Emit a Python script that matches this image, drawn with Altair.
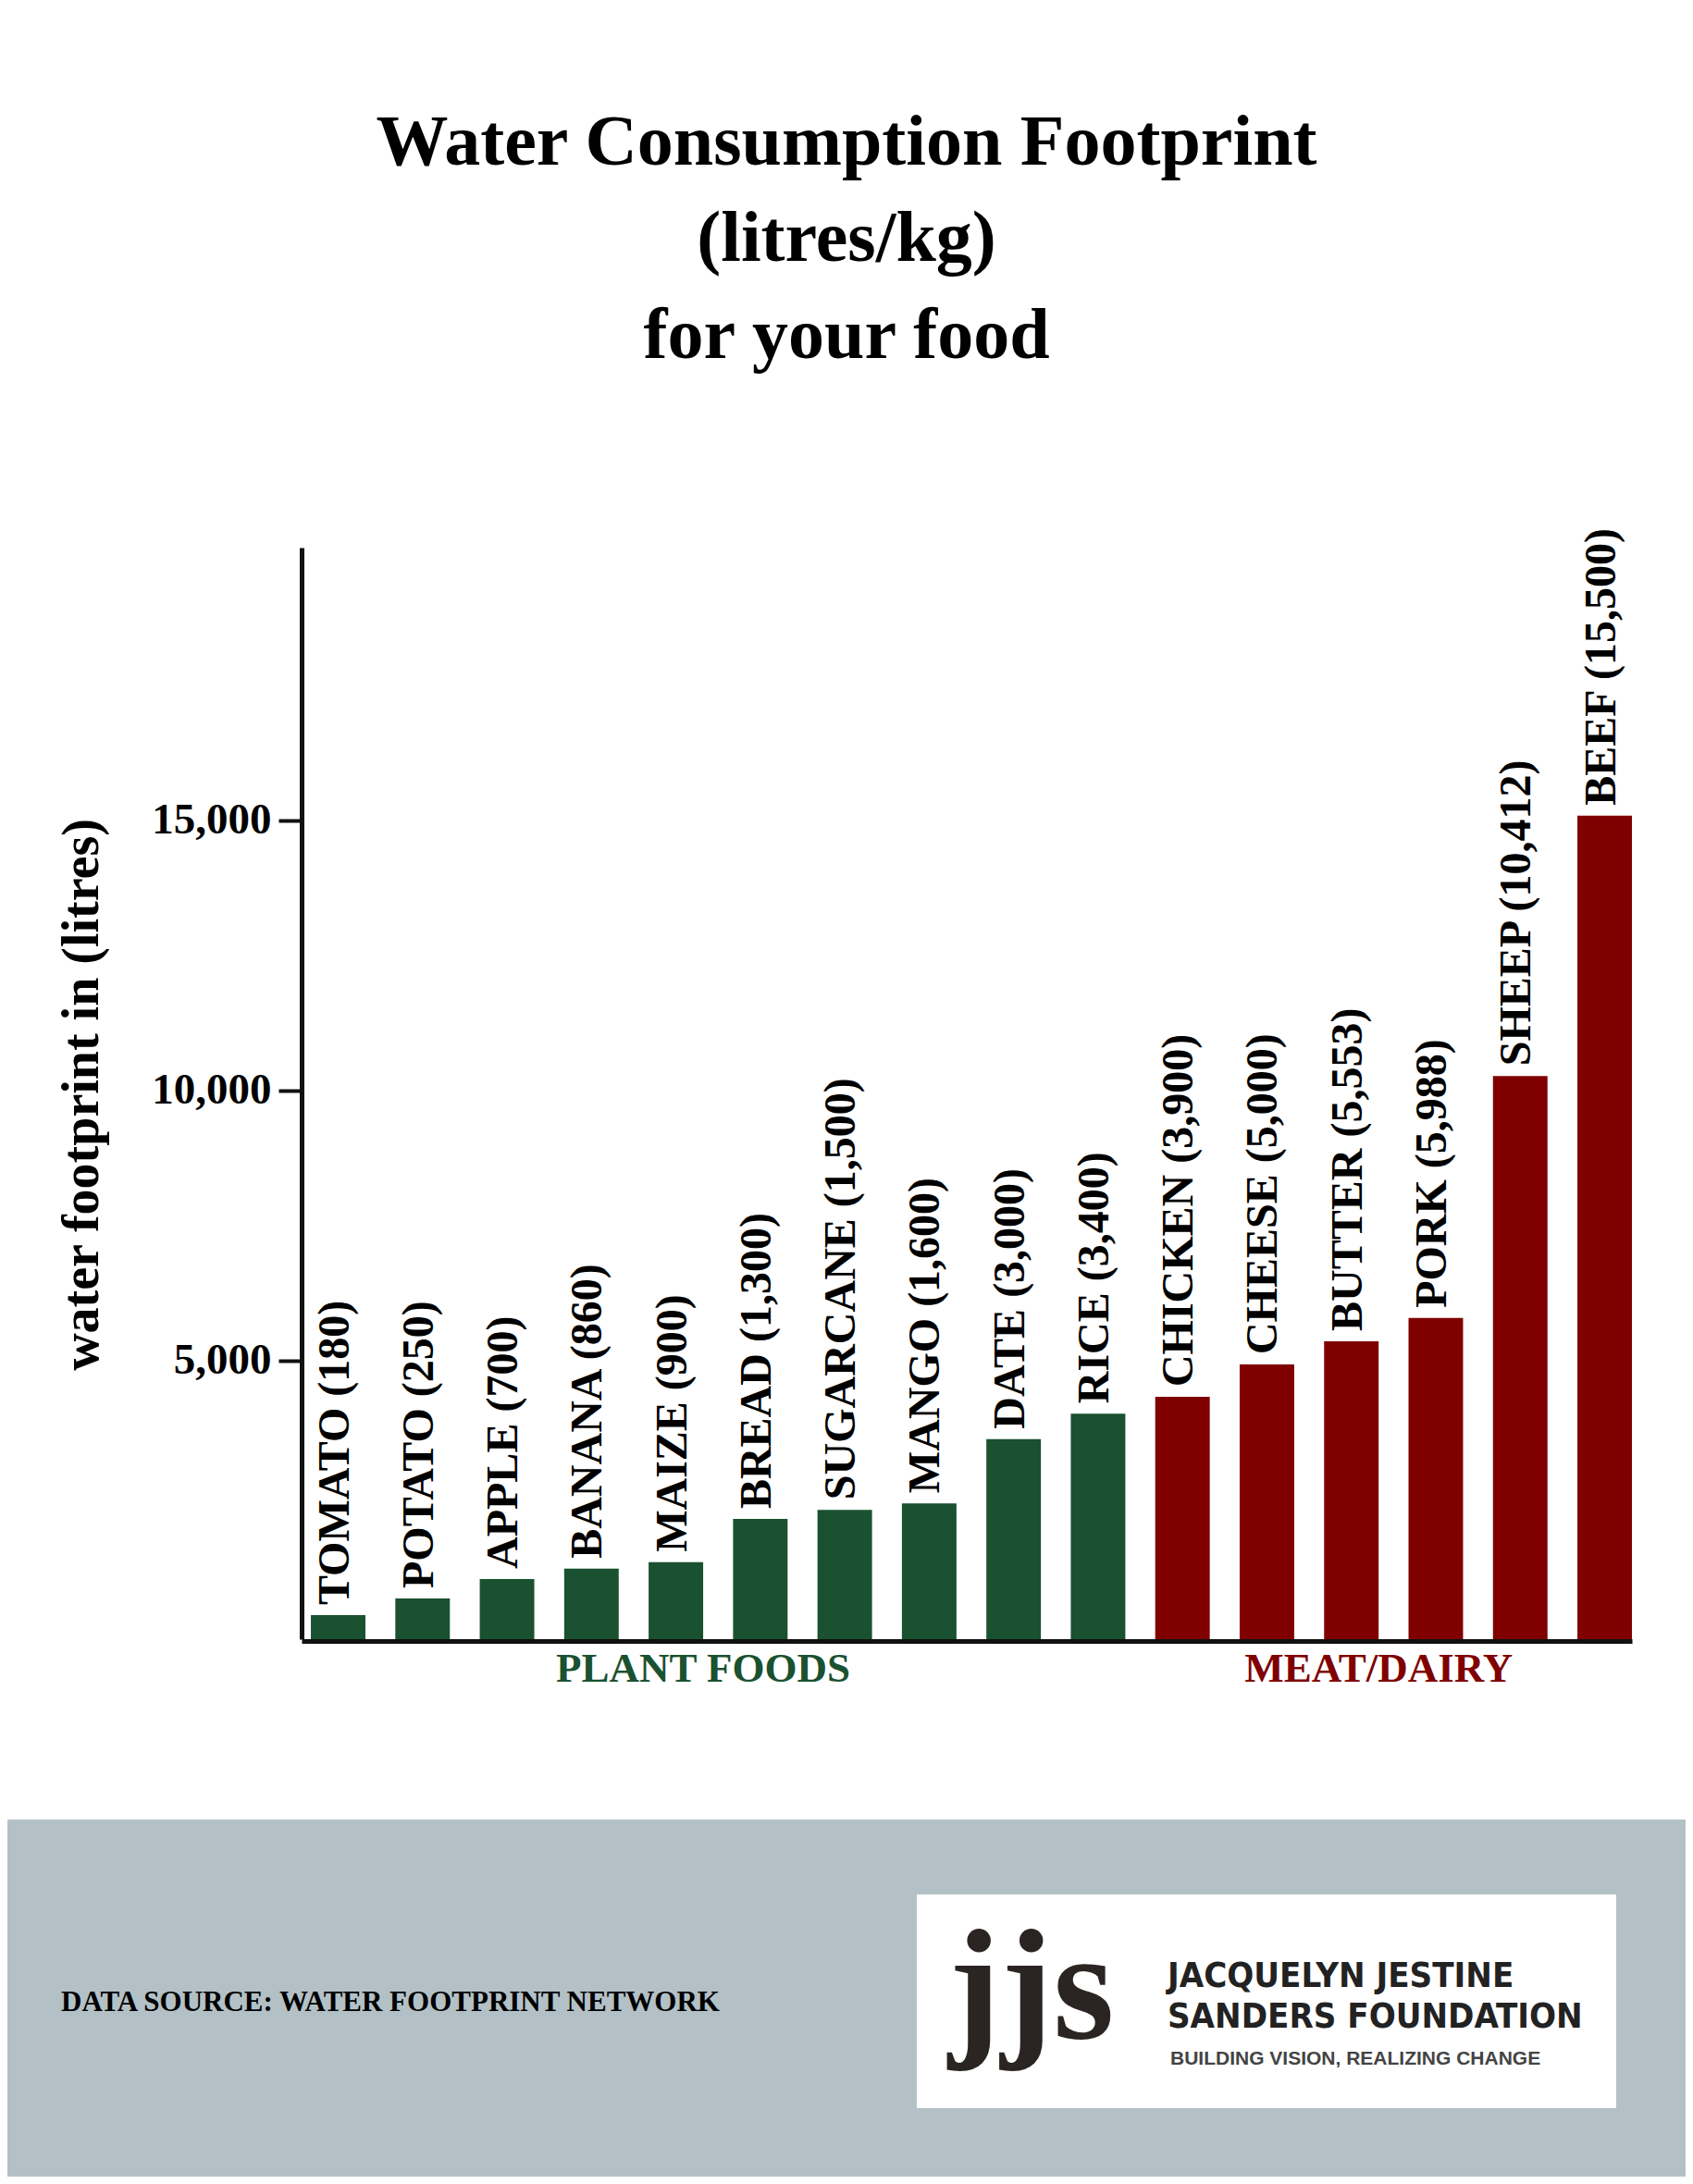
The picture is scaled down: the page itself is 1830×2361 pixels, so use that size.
import altair as alt
import pandas as pd

# ---------------- data ----------------
foods = ["TOMATO", "POTATO", "APPLE", "BANANA", "MAIZE", "BREAD", "SUGARCANE",
         "MANGO", "DATE", "RICE", "CHICKEN", "CHEESE", "BUTTER", "PORK",
         "SHEEP", "BEEF"]
stated_litres = [180, 250, 700, 860, 900, 1300, 1500, 1600, 3000, 3400,
                 3900, 5000, 5553, 5988, 10412, 15500]
bar_heights = [290, 600, 960, 1150, 1270, 2070, 2240, 2360, 3550, 4020,
               4330, 4930, 5360, 5790, 10270, 15090]
groups = ["plant", "plant", "plant", "plant", "plant", "plant", "plant",
          "plant", "plant", "plant", "meat", "meat", "meat", "meat",
          "meat", "meat"]
group_keys = ["plant", "meat"]
group_names = ["PLANT FOODS", "MEAT/DAIRY"]
group_anchor = ["MAIZE", "BUTTER"]
y_ticks = [5000, 10000, 15000]
y_domain = [-154, 20050]
title_lines = ["Water Consumption Footprint", "(litres/kg)", "for your food"]
source_text = "DATA SOURCE: WATER FOOTPRINT NETWORK"
logo_mark = "jjs"
logo_lines = ["JACQUELYN JESTINE", "SANDERS FOUNDATION"]
logo_tagline = "BUILDING VISION, REALIZING CHANGE"

# ---------------- styling ----------------
W, H = 1438, 1180
SERIF = "Liberation Serif"
GREEN, RED = "#1a5130", "#800000"
BAND = "#b3c1c6"

color_scale = alt.Scale(domain=group_keys, range=[GREEN, RED])
x_scale = alt.Scale(paddingInner=0.354, paddingOuter=0.055, align=1)
y_scale = alt.Scale(domain=y_domain, nice=False, zero=False)

df = pd.DataFrame({
    "food": foods,
    "height": bar_heights,
    "group": groups,
    "label": [f"{f} ({v:,})" for f, v in zip(foods, stated_litres)],
})
gdf = pd.DataFrame({"food": group_anchor, "name": group_names, "group": group_keys})

x_axis = alt.Axis(title=None, labels=False, ticks=False, grid=False,
                  domain=True, domainColor="#111", domainWidth=5, offset=2)
y_axis = alt.Axis(values=y_ticks, format=",d", grid=False,
                  title="water footprint in (litres)",
                  labelFont=SERIF, labelFontSize=47, labelFontWeight="bold",
                  labelColor="black", labelPadding=8,
                  tickSize=25, tickWidth=4, tickColor="#111",
                  domainColor="#111", domainWidth=5,
                  titleFont=SERIF, titleFontSize=56, titleFontWeight="bold",
                  titleColor="black", titleAngle=270, titleX=-221, titleY=591,
                  titleAlign="center", titleBaseline="alphabetic")


def text_layer(text, x, y, **kw):
    return alt.Chart(pd.DataFrame({"t": [text]})).mark_text(**kw).encode(
        x=alt.value(x), y=alt.value(y), text="t:N")


def rect_layer(x, x2, y, y2, color):
    return alt.Chart(pd.DataFrame({"k": [0]})).mark_rect(color=color).encode(
        x=alt.value(x), x2=alt.value(x2), y=alt.value(y), y2=alt.value(y2))


band = rect_layer(-318, 1496, 1375, 1761, BAND)
box = rect_layer(665, 1421, 1456, 1687, "white")

bars = alt.Chart(df).mark_bar().encode(
    x=alt.X("food:N", sort=foods, scale=x_scale, axis=x_axis),
    y=alt.Y("height:Q", scale=y_scale, axis=y_axis),
    y2=alt.datum(y_domain[0]),
    color=alt.Color("group:N", scale=color_scale, legend=None),
)

labels = alt.Chart(df).mark_text(
    angle=270, align="left", baseline="alphabetic", dx=11, dy=11,
    font=SERIF, fontSize=48, fontWeight="bold", color="black",
).encode(
    x=alt.X("food:N", sort=foods, scale=x_scale),
    y=alt.Y("height:Q", scale=y_scale),
    text="label:N",
)

glabels = alt.Chart(gdf).mark_text(
    font=SERIF, fontSize=45, fontWeight="bold", baseline="alphabetic", align="center",
).encode(
    x=alt.X("food:N", sort=foods, scale=x_scale, bandPosition=1),
    y=alt.value(H + 46),
    text="name:N",
    color=alt.Color("group:N", scale=color_scale, legend=None),
)

title_kw = dict(font=SERIF, fontSize=78, fontWeight="bold", color="black",
                align="center", baseline="alphabetic")
titles = [
    text_layer(title_lines[0], 589, -414, **title_kw),
    text_layer(title_lines[1], 589, -310, **title_kw),
    text_layer(title_lines[2], 589, -205, **title_kw),
]

source = text_layer(source_text, -260, 1582, font=SERIF, fontSize=31,
                    fontWeight="bold", color="black", align="left",
                    baseline="alphabetic")
logo_jjs = text_layer(logo_mark, 699, 1611, font=SERIF, fontSize=170,
                      fontWeight="bold", color="#2a2523", align="left",
                      baseline="alphabetic")
NARROW = "DejaVu Sans Condensed, Liberation Sans Narrow, Liberation Sans"
logo_l1 = text_layer(logo_lines[0], 936, 1556, font=NARROW, fontSize=38,
                     fontWeight="bold", color="#222", align="left",
                     baseline="alphabetic")
logo_l2 = text_layer(logo_lines[1], 936, 1600, font=NARROW, fontSize=38,
                     fontWeight="bold", color="#222", align="left",
                     baseline="alphabetic")
logo_tag = text_layer(logo_tagline, 939, 1640, font="Liberation Sans", fontSize=21,
                      fontWeight="bold", color="#444", align="left",
                      baseline="alphabetic")

chart = alt.layer(
    band, box, bars, labels, glabels, *titles,
    source, logo_jjs, logo_l1, logo_l2, logo_tag,
).properties(
    width=W, height=H,
    autosize=alt.AutoSizeParams(type="none"),
    padding={"left": 318, "top": 584, "right": 58, "bottom": 581},
    background="white",
).configure_view(stroke=None)

chart.save("out.html", embed_options={"renderer": "svg", "actions": False})
